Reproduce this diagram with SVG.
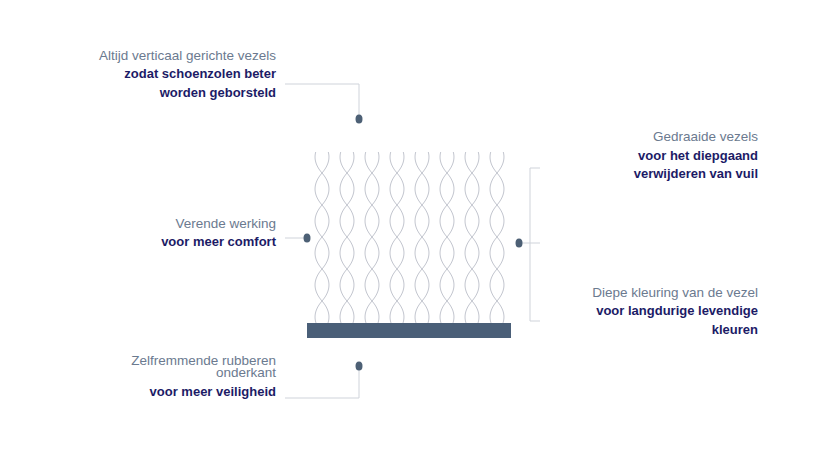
<svg xmlns="http://www.w3.org/2000/svg" xmlns:xlink="http://www.w3.org/1999/xlink" width="840" height="472" viewBox="0 0 840 472">
<style>
.l{font-family:"Liberation Sans",Arial,sans-serif;font-size:13.5px;fill:#6b7a8f;text-anchor:end}
.b{font-family:"Liberation Sans",Arial,sans-serif;font-size:13px;font-weight:bold;fill:#1c1b66;text-anchor:end}
.c{fill:none;stroke:#cfd3da;stroke-width:1}
.s{fill:none;stroke:#c3c6cf;stroke-width:1}
.d{fill:#4d6075}
</style>
<defs>
<clipPath id="cl"><rect x="300" y="152" width="220" height="171"/></clipPath>
<g id="f">
<path class="s" d="M0,141 C9.3,151.7 9.3,162.3 0,173 C-9.3,183.7 -9.3,194.3 0,205 C9.3,215.7 9.3,226.3 0,237 C-9.3,247.7 -9.3,258.3 0,269 C9.3,279.7 9.3,290.3 0,301 C-9.3,311.7 -9.3,322.3 0,333"/>
<path class="s" d="M0,141 C-9.3,151.7 -9.3,162.3 0,173 C9.3,183.7 9.3,194.3 0,205 C-9.3,215.7 -9.3,226.3 0,237 C9.3,247.7 9.3,258.3 0,269 C-9.3,279.7 -9.3,290.3 0,301 C9.3,311.7 9.3,322.3 0,333"/>
</g>
</defs>
<g id="fibers" clip-path="url(#cl)">
<use xlink:href="#f" x="322"/><use xlink:href="#f" x="347"/><use xlink:href="#f" x="372"/><use xlink:href="#f" x="397"/>
<use xlink:href="#f" x="422"/><use xlink:href="#f" x="447"/><use xlink:href="#f" x="472"/><use xlink:href="#f" x="497"/>
</g>
<rect id="base" x="307" y="323" width="204" height="15" fill="#4a5f78"/>
<g id="connectors">
<path class="c" d="M285,84 H359 V119"/>
<path class="c" d="M285,238 H307"/>
<path class="c" d="M285,398 H359 V366"/>
<path class="c" d="M540,168 H530 V321 H540"/>
<path class="c" d="M519,243 H540"/>
</g>
<g id="dots">
<ellipse class="d" cx="359" cy="119" rx="3.5" ry="4.5"/>
<ellipse class="d" cx="307" cy="238" rx="3.5" ry="4.5"/>
<ellipse class="d" cx="519" cy="243" rx="3.5" ry="4.5"/>
<ellipse class="d" cx="359" cy="366" rx="3.5" ry="4.5"/>
</g>
<g id="n-top"><text class="l" x="276" y="60">Altijd verticaal gerichte vezels</text><text class="b" x="276" y="78">zodat schoenzolen beter</text><text class="b" x="276" y="97">worden geborsteld</text></g>
<g id="n-left"><text class="l" x="276" y="228">Verende werking</text><text class="b" x="276" y="246">voor meer comfort</text></g>
<g id="n-bottom"><text class="l" x="276" y="365">Zelfremmende rubberen</text><text class="l" x="276" y="377">onderkant</text><text class="b" x="276" y="396">voor meer veiligheid</text></g>
<g id="n-right1"><text class="l" x="758" y="141">Gedraaide vezels</text><text class="b" x="758" y="160">voor het diepgaand</text><text class="b" x="758" y="178">verwijderen van vuil</text></g>
<g id="n-right2"><text class="l" x="758" y="297">Diepe kleuring van de vezel</text><text class="b" x="758" y="315">voor langdurige levendige</text><text class="b" x="758" y="334">kleuren</text></g>
</svg>
